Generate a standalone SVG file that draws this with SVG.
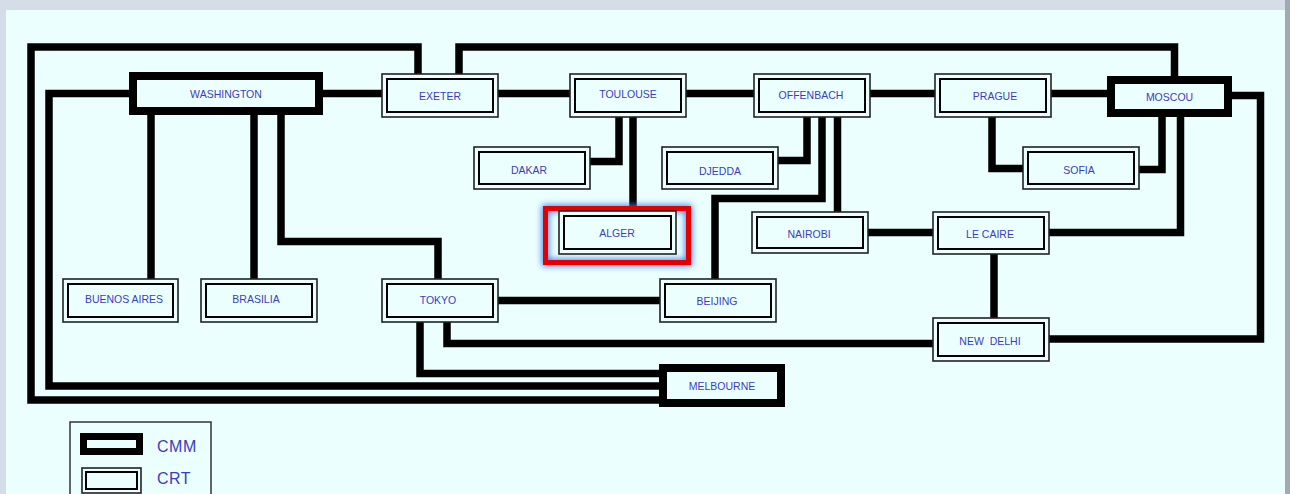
<svg xmlns="http://www.w3.org/2000/svg" width="1290" height="494" viewBox="0 0 1290 494">
<defs>
<style>
.bg{fill:#d4dde8}
.panel{fill:#ebffff}
.conn path{fill:none;stroke:#000;stroke-width:7.5;stroke-linejoin:miter;stroke-linecap:butt}
.crt-o{fill:#ebffff;stroke:#222;stroke-width:1.6}
.crt-i{fill:none;stroke:#000;stroke-width:2}
.cmm{fill:#ebffff;stroke:#000;stroke-width:8}
.lbl{font-family:"Liberation Sans",Arial,sans-serif;font-size:10.5px;fill:#3c3cc0;text-anchor:middle;dominant-baseline:central}
.leg{font-family:"Liberation Sans",Arial,sans-serif;font-size:16px;fill:#3c3cc0;letter-spacing:0.5px}
</style>
<filter id="glow" x="-20%" y="-30%" width="140%" height="160%">
<feGaussianBlur stdDeviation="3"/>
</filter>
</defs>
<rect class="bg" x="0" y="0" width="1290" height="494"/>
<rect class="panel" x="6" y="10" width="1279" height="484"/>
<rect x="1285" y="0" width="5" height="494" fill="#a3a9b1"/>

<g id="connectors" class="conn">
<path d="M418,74 V47 H31 V400 H659"/>
<path d="M129,93.5 H49 V386 H659"/>
<path d="M323,93.5 H382"/>
<path d="M151,115 V279"/>
<path d="M254,115 V279"/>
<path d="M281,115 V241.5 H438 V279"/>
<path d="M459,74 V47 H1174.5 V76"/>
<path d="M498,93.5 H570"/>
<path d="M686,93.5 H754"/>
<path d="M870,93.5 H935"/>
<path d="M1051,93.5 H1107"/>
<path d="M619,117 V161.5 H590"/>
<path d="M633,117 V206"/>
<path d="M807,117 V160.5 H778"/>
<path d="M822,117 V198.5 H715 V279"/>
<path d="M837.5,117 V212"/>
<path d="M868,232.5 H933"/>
<path d="M1049,232.5 H1180.5 V117"/>
<path d="M992,117 V168.5 H1023"/>
<path d="M1139,169.5 H1162 V117"/>
<path d="M1232,95.5 H1260.5 V339 H1049"/>
<path d="M994,254 V318"/>
<path d="M498,300.5 H660"/>
<path d="M447,322 V343.5 H933"/>
<path d="M420,322 V373.5 H659"/>
</g>

<g id="washington"><rect class="cmm" x="133" y="76" width="186" height="35"/><text class="lbl" x="226" y="93.5">WASHINGTON</text></g>
<g id="moscou"><rect class="cmm" x="1111" y="80" width="117" height="33"/><text class="lbl" x="1169.5" y="96.5">MOSCOU</text></g>
<g id="melbourne"><rect class="cmm" x="663" y="368" width="118" height="35"/><text class="lbl" x="722" y="386">MELBOURNE</text></g>

<g id="exeter"><rect class="crt-o" x="382" y="74" width="116" height="43"/><rect class="crt-i" x="387" y="79" width="106" height="33"/><text class="lbl" x="440" y="95.5">EXETER</text></g>
<g id="toulouse"><rect class="crt-o" x="570" y="74" width="116" height="43"/><rect class="crt-i" x="575" y="79" width="106" height="33"/><text class="lbl" x="628" y="94">TOULOUSE</text></g>
<g id="offenbach"><rect class="crt-o" x="754" y="74" width="116" height="43"/><rect class="crt-i" x="759" y="79" width="106" height="33"/><text class="lbl" x="811" y="95">OFFENBACH</text></g>
<g id="prague"><rect class="crt-o" x="935" y="74" width="116" height="43"/><rect class="crt-i" x="940" y="79" width="106" height="33"/><text class="lbl" x="995" y="95.5">PRAGUE</text></g>
<g id="dakar"><rect class="crt-o" x="474" y="147" width="116" height="42"/><rect class="crt-i" x="479" y="152" width="106" height="32"/><text class="lbl" x="529" y="170">DAKAR</text></g>
<g id="djedda"><rect class="crt-o" x="662" y="147" width="116" height="42"/><rect class="crt-i" x="667" y="152" width="106" height="32"/><text class="lbl" x="720" y="171">DJEDDA</text></g>
<g id="sofia"><rect class="crt-o" x="1023" y="147" width="116" height="42"/><rect class="crt-i" x="1028" y="152" width="106" height="32"/><text class="lbl" x="1079" y="170">SOFIA</text></g>
<g id="alger">
<rect x="545.5" y="208.5" width="143" height="54" fill="none" stroke="#3f7fe8" stroke-width="7" filter="url(#glow)"/>
<rect x="545.5" y="208.5" width="143" height="54" fill="none" stroke="#e20000" stroke-width="5"/>
<rect class="crt-o" x="559" y="211" width="117" height="43"/><rect class="crt-i" x="564" y="216" width="107" height="33"/><text class="lbl" x="617" y="233">ALGER</text></g>
<g id="nairobi"><rect class="crt-o" x="752" y="212" width="116" height="41"/><rect class="crt-i" x="757" y="217" width="106" height="31"/><text class="lbl" x="809" y="233.5">NAIROBI</text></g>
<g id="lecaire"><rect class="crt-o" x="933" y="212" width="116" height="42"/><rect class="crt-i" x="938" y="217" width="106" height="32"/><text class="lbl" x="990" y="234">LE CAIRE</text></g>
<g id="newdelhi"><rect class="crt-o" x="933" y="318" width="116" height="43"/><rect class="crt-i" x="938" y="323" width="106" height="33"/><text class="lbl" x="990" y="341" xml:space="preserve">NEW  DELHI</text></g>
<g id="buenosaires"><rect class="crt-o" x="63" y="279" width="115" height="43"/><rect class="crt-i" x="68" y="284" width="105" height="33"/><text class="lbl" x="124" y="298.5">BUENOS AIRES</text></g>
<g id="brasilia"><rect class="crt-o" x="201" y="279" width="116" height="43"/><rect class="crt-i" x="206" y="284" width="106" height="33"/><text class="lbl" x="256" y="298.5">BRASILIA</text></g>
<g id="tokyo"><rect class="crt-o" x="382" y="279" width="116" height="43"/><rect class="crt-i" x="387" y="284" width="106" height="33"/><text class="lbl" x="438" y="300">TOKYO</text></g>
<g id="beijing"><rect class="crt-o" x="660" y="279" width="116" height="43"/><rect class="crt-i" x="665" y="284" width="106" height="33"/><text class="lbl" x="717" y="300.5">BEIJING</text></g>

<g id="legend">
<rect x="70" y="422" width="141" height="80" fill="none" stroke="#333" stroke-width="1.5"/>
<rect x="83.5" y="436.5" width="56" height="15" fill="#ebffff" stroke="#000" stroke-width="7"/>
<text class="leg" x="157" y="452">CMM</text>
<rect x="82" y="468" width="59" height="25" fill="#ebffff" stroke="#222" stroke-width="1.6"/>
<rect x="86" y="472" width="51" height="17" fill="none" stroke="#000" stroke-width="2"/>
<text class="leg" x="157" y="484">CRT</text>
</g>
</svg>
